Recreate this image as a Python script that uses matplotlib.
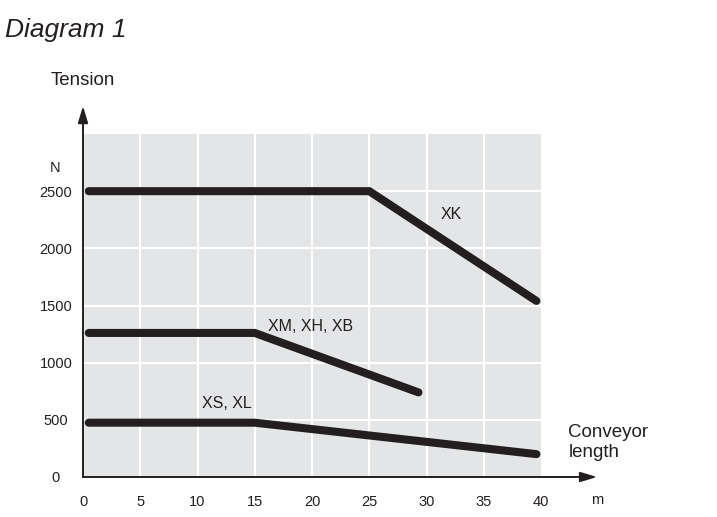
import numpy as np
import matplotlib; matplotlib.use('Agg')
import matplotlib.pyplot as plt
import matplotlib.transforms as mtransforms

plt.rcParams['font.family'] = ['Liberation Sans', 'DejaVu Sans']

# belt tension vs conveyor length
xk_len = [0.5, 25, 39.6];  xk_n = [2500, 2500, 1540]
xm_len = [0.5, 15, 29.3];  xm_n = [1260, 1260, 740]
xs_len = [0.5, 15, 39.6];  xs_n = [475, 475, 200]
xticks = [0, 5, 10, 15, 20, 25, 30, 35, 40]
yticks = [0, 500, 1000, 1500, 2000, 2500]

ink = '#231f20'
fig = plt.figure(figsize=(7.17, 5.17), dpi=100)
ax = fig.add_axes([83/717, 40/517, 458/717, 343/517])
ax.set_facecolor('#e4e5e7')
ax.set_xlim(0, 40); ax.set_ylim(0, 3000)
for s in ax.spines.values(): s.set_visible(False)

for v in xticks[1:-1]:
    ax.axvline(v, color='white', lw=1.5, zorder=1)
for v in yticks[1:]:
    ax.axhline(v, color='white', lw=1.5, zorder=1)

for xs, ys in [(xk_len, xk_n), (xm_len, xm_n), (xs_len, xs_n)]:
    ax.plot(xs, ys, color=ink, lw=5.8, solid_capstyle='round', solid_joinstyle='miter', zorder=3)

ax.set_xticks(xticks)
ax.set_xticklabels([str(v) for v in xticks], fontsize=10.5, color=ink)
ax.set_yticks(yticks)
ax.set_yticklabels([str(v) for v in yticks], fontsize=10.5, color=ink)
ax.tick_params(axis='x', length=0, pad=13)
ax.tick_params(axis='y', length=0, pad=19.5)
for t in ax.get_yticklabels(): t.set_ha('center')

# axis arrows
arr = dict(arrowstyle='-|>,head_length=1.0,head_width=0.3', color=ink, lw=1.4, shrinkA=0, shrinkB=0)
ax.annotate('', xy=(44.9, 0), xytext=(0, 0), arrowprops=arr, annotation_clip=False)
ax.annotate('', xy=(0, 3245), xytext=(0, 0), arrowprops=arr, annotation_clip=False)

bt = mtransforms.blended_transform_factory(ax.transAxes, ax.transData)
ax.text(-28/458, 2700, 'N', transform=bt, ha='center', va='center', fontsize=10.5, color=ink)
ax.text(44.9, -205, 'm', ha='center', va='center', fontsize=10.5, color=ink, clip_on=False)
ax.text(0, 3470, 'Tension', ha='center', va='center', fontsize=13.5, color=ink, clip_on=False)
ax.text(42.4, 300, 'Conveyor\nlength', ha='left', va='center', fontsize=13.5, color=ink,
        linespacing=1.2, clip_on=False)

ax.text(32.2, 2300, 'XK', ha='center', va='center', fontsize=11.5, color=ink)
ax.text(16.2, 1320, 'XM, XH, XB', ha='left', va='center', fontsize=11.5, color=ink)
ax.text(12.6, 647, 'XS, XL', ha='center', va='center', fontsize=11.5, color=ink)

fig.text(5/717, 1 - 37/517, 'Diagram 1', fontsize=19, style='italic', color=ink, va='baseline')

fig.savefig('out.png', dpi=100)
